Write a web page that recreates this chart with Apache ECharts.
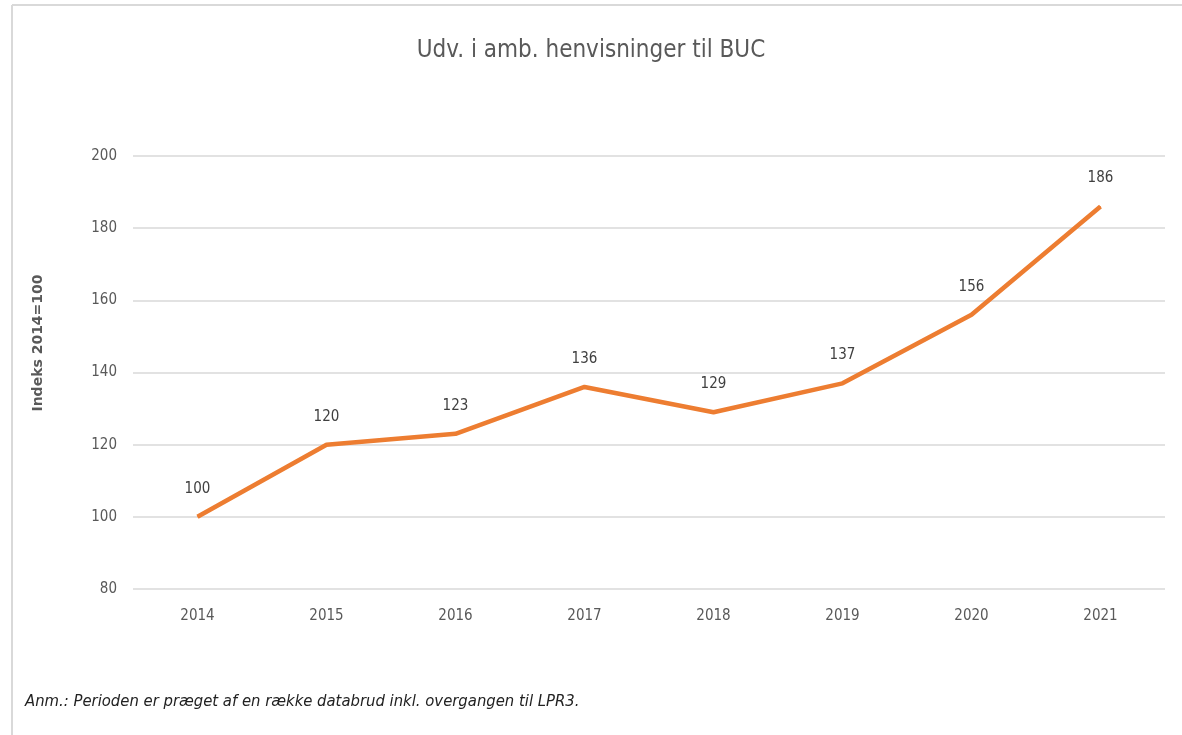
<!DOCTYPE html>
<html lang="da">
<head>
  <meta charset="UTF-8">
  <script src="https://cdn.jsdelivr.net/npm/echarts@6/dist/echarts.min.js"></script>
  <title>Udv. i amb. henvisninger til BUC</title>
  <style>
    * {margin: 0; padding: 0;}
    html, body {width: 100%; height: 100%; overflow: hidden; background: #fff;}
    #chart {width: 1182px; height: 735px;}
  </style>
</head>
<body>
  <div id="chart"></div>
<script>
var years = ['2014', '2015', '2016', '2017', '2018', '2019', '2020', '2021']
var indeks = [100, 120, 123, 136, 129, 137, 156, 186]
var yMin = 80
var yMax = 200
var yStep = 20

var font = '"Liberation Sans Narrow", "DejaVu Sans Condensed", sans-serif'

var chart = echarts.init(document.getElementById('chart'))
chart.setOption({
  animation: false,
  title: {
    text: 'Udv. i amb. henvisninger til BUC',
    left: 'center',
    top: 34,
    textStyle: {fontFamily: font, fontWeight: 'normal', fontSize: 24, color: '#595959'}
  },
  graphic: [
    {type: 'line', shape: {x1: 12, y1: 5, x2: 1182, y2: 5}, style: {stroke: '#d9d9d9', lineWidth: 2}},
    {type: 'line', shape: {x1: 12, y1: 5, x2: 12, y2: 735}, style: {stroke: '#d9d9d9', lineWidth: 2}},
    {
      // y axis title sits a little above the plot middle in the original
      type: 'text', x: 38, y: 343, rotation: Math.PI / 2,
      style: {
        text: 'Indeks 2014=100',
        fontFamily: '"DejaVu Sans", sans-serif', fontSize: 14, fontWeight: 'bold',
        fill: '#595959', align: 'center', verticalAlign: 'middle'
      }
    },
    {
      type: 'text', left: 25, top: 693,
      style: {
        text: 'Anm.: Perioden er præget af en række databrud inkl. overgangen til LPR3.',
        fontFamily: font, fontStyle: 'italic', fontSize: 16.5, fill: '#222'
      }
    }
  ],
  grid: {left: 133, right: 17, top: 156, bottom: 146},
  xAxis: {
    type: 'category',
    data: years,
    boundaryGap: true,
    axisLine: {show: false},
    axisTick: {show: false},
    axisLabel: {fontFamily: font, fontSize: 15, color: '#595959', margin: 20}
  },
  yAxis: {
    type: 'value',
    min: yMin,
    max: yMax,
    interval: yStep,
    axisLine: {show: false},
    axisTick: {show: false},
    axisLabel: {fontFamily: font, fontSize: 15, color: '#595959', margin: 16},
    splitLine: {lineStyle: {color: '#d9d9d9', width: 1.5}}
  },
  series: [{
    type: 'line',
    data: indeks,
    symbol: 'circle',
    symbolSize: 1,
    showSymbol: true,
    itemStyle: {color: '#ED7D31'},
    lineStyle: {color: '#ED7D31', width: 4.5},
    label: {
      show: true,
      position: 'top',
      distance: 20,
      fontFamily: font,
      fontSize: 15,
      color: '#404040'
    }
  }]
})
</script>
</body>
</html>
